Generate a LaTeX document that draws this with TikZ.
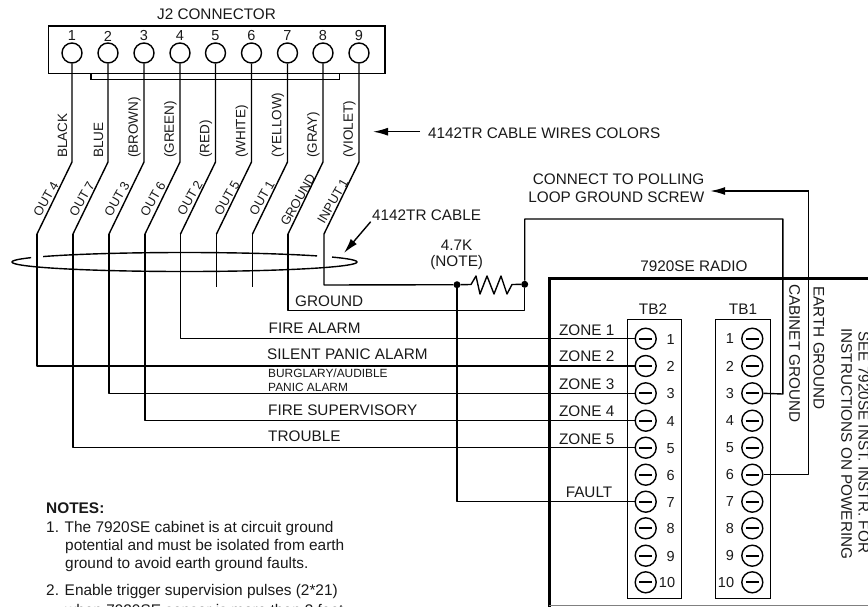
\documentclass[tikz,border=0pt]{standalone}
\usepackage{fontspec}
\setmainfont{Liberation Sans}
\usetikzlibrary{arrows.meta}
\tikzset{
  x=1pt,y=-1pt,
  wire/.style={line width=1.4pt,line join=round},
  txt/.style={font=\fontsize{15.3}{17}\selectfont,inner sep=0pt,text=black!90},
  ltxt/.style={txt,anchor=west},
  small/.style={font=\fontsize{11.9}{13}\selectfont,inner sep=0pt,anchor=west,text=black!90},
  note/.style={font=\fontsize{15.4}{17}\selectfont,inner sep=0pt,anchor=west,text=black!90},
  num/.style={font=\fontsize{14.5}{16}\selectfont,inner sep=0pt,text=black!90},
  vtxt/.style={font=\fontsize{13.5}{15}\selectfont,inner sep=0pt,text=black!90,rotate=90,anchor=west},
  dtxt/.style={font=\fontsize{12.8}{15}\selectfont,inner sep=0pt,text=black!90,rotate=60},
  rtxt/.style={txt,rotate=-90,anchor=west},
  pin/.style={circle,draw,line width=1.4pt,minimum size=20pt,inner sep=0pt,fill=white},
  screw/.style={circle,draw,line width=1.4pt,minimum size=21pt,inner sep=0pt,fill=white,
    path picture={\draw[line width=2pt] ([xshift=-6.5pt]path picture bounding box.center)--([xshift=6.5pt]path picture bounding box.center);}},
  box/.style={draw,line width=1.4pt},
  tip/.style={-{Latex[length=15pt,width=8pt]}},
  joint/.style={circle,fill=black,minimum size=7pt,inner sep=0pt},
}
\begin{document}
\begin{tikzpicture}
\useasboundingbox (0,0) rectangle (868,606);
\clip (0,0) rectangle (868,606);
% J2 connector
\node[txt] (j2title) at (216.5,14) {J2 CONNECTOR};
\draw[box] (48.5,26) rectangle (385,73.5);
\draw[box] (91,73.5) |- (339.5,79.5) -- (339.5,73.5);
\foreach \n/\x/\c in {1/72/BLACK,2/108/BLUE,3/144/(BROWN),4/180/(GREEN),5/215.5/(RED),6/251.5/(WHITE),7/287.5/(YELLOW),8/323/(GRAY),9/359/(VIOLET)}{
  \node[pin] (p\n) at (\x,53) {};
  \node[num] (pn\n) at (\x,36) {\n};
  \coordinate (b\n) at (\x,162);
  \coordinate (c\n) at (\x-35,234);
  \node[vtxt] (col\n) at (\x-9.5,158) {\c};
}
\foreach \n/\t/\x/\y in {1/OUT 4/46/199,2/OUT 7/82/199,3/OUT 3/117/199,4/OUT 6/153/199,5/OUT 2/190/198,6/OUT 5/227/198,7/OUT 1/262/198,8/GROUND/298/200,9/INPUT 1/333/201}{
  \node[dtxt] (sig\n) at (\x,\y) {\t};
}
% cable loop
\draw[wire] plot[domain=145:39.8,samples=60] ({184.5+172.5*cos(\x)},{262-9.5*sin(\x)});
\draw[wire] plot[domain=31.2:-207.2,samples=120] ({184.5+172.5*cos(\x)},{262-9.5*sin(\x)});
% radio box
\draw[line width=3pt] (868,278) -- (549,278) -- (549,612);
\draw[line width=.8pt,black!50] (549,605.5) -- (868,605.5);
\node[txt] (radio) at (694,266.7) {7920SE RADIO};
% terminal blocks
\node[txt] (tb2t) at (653,309) {TB2};
\node[txt] (tb1t) at (743,309) {TB1};
\draw[box] (627.5,319.5) rectangle (681.7,598.7);
\draw[box] (715.7,319.5) rectangle (770.3,598.7);
\foreach \n/\y in {1/338.7,2/366,3/393.3,4/420.7,5/447.7,6/474.7,7/501.7,8/528.3,9/555.7,10/582.3}{
  \node[screw] (z\n) at (645.7,\y) {};
  \node[screw] (t\n) at (752.3,\y) {};
  \ifnum\n<10
    \node[num] (zn\n) at (670.7,\y+.5) {\n};
    \node[num] (tn\n) at (730,\y) {\n};
  \else
    \node[num] (zn\n) at (667,\y+.5) {\n};
    \node[num] (tn\n) at (726,\y) {\n};
  \fi
}
% joints & resistor
\node[joint] (ja) at (457,284.7) {};
\node[joint] (jb) at (524.7,284.3) {};
\draw[wire] (ja) -- (471,284.5) -- (476,276) -- (480,294) -- (487,276) -- (494,294) -- (501,276) -- (507,294) -- (512,284.5) -- (jb);
% wires
\foreach \n in {1,...,9}{\draw[wire] (p\n.south) -- (b\n) -- (c\n);}
\draw[wire] (c1) |- (z2.west);
\draw[wire] (c2) |- (z5.west);
\draw[wire] (c3) |- (z3.west);
\draw[wire] (c4) |- (z4.west);
\draw[wire] (c5) |- (z1.west);
\coordinate (e6) at (216.5,287); \coordinate (e7) at (252.5,287);
\draw[wire] (c6) -- (e6);
\draw[wire] (c7) -- (e7);
\coordinate (g) at (288,310.7);
\draw[wire] (c8) -- (g) -| (jb);
\draw[wire] (c9) -- (324,285) -- (ja);
\draw[wire] (ja) |- (z7.west);
\coordinate (top) at (782.8,219);
\draw[wire] (jb) |- (top) -- (782.8,394) -- (t3.east);
\coordinate (eg) at (808.7,191);
\node[inner sep=0pt,minimum size=0pt] (aend) at (710,191) {};
\draw[wire] (t6.east) -| (eg);
\draw[wire,tip] (eg) -- (aend);
% texts
\node[ltxt] (a1) at (295,301) {GROUND};
\node[ltxt] at (268.5,328.7) {FIRE ALARM};
\node[ltxt] at (267,354.7) {SILENT PANIC ALARM};
\node[small] at (268,373.7) {BURGLARY/AUDIBLE};
\node[small] at (268,387) {PANIC ALARM};
\node[ltxt] at (268,410.7) {FIRE SUPERVISORY};
\node[ltxt] at (268,436.7) {TROUBLE};
\foreach \t/\y in {1/330,2/356.7,3/384.3,4/411.7,5/439}{\node[txt] at (586.7,\y) {ZONE \t};}
\node[txt] at (589,492.7) {FAULT};
\node[txt] at (456.7,245) {4.7K};
\node[txt] at (456.7,263) {(NOTE)};
\node[txt,anchor=east] at (704.5,179.7) {CONNECT TO POLLING};
\node[txt,anchor=east] at (704.5,197.7) {LOOP GROUND SCREW};
\node[ltxt] (cw) at (428,133) {4142TR CABLE WIRES COLORS};
\node[ltxt] (cb) at (372,215.7) {4142TR CABLE};
\coordinate (ca1) at (420,131.7);\coordinate (ca2) at (373,131.7);
\draw[wire,tip] (ca1) -- (ca2);
\coordinate (cb1) at (370.7,221.7);\coordinate (cb2) at (344,253);
\draw[wire,tip] (cb1) -- (cb2);
\node[rtxt] at (794.7,284) {CABINET GROUND};
\node[rtxt] at (819,286) {EARTH GROUND};
\node[rtxt] at (864,331) {SEE 7920SE INST. INSTR. FOR};
\node[rtxt] at (846.7,328) {INSTRUCTIONS ON POWERING};
% notes
\node[note,font=\fontsize{15.4}{17}\selectfont\bfseries] at (46,507.7) {NOTES:};
\node[note] at (46,529) {1. The 7920SE cabinet is at circuit ground};
\node[note] at (65,547) {potential and must be isolated from earth};
\node[note] at (65,565) {ground to avoid earth ground faults.};
\node[note] at (46,592) {2. Enable trigger supervision pulses (2*21)};
\node[note] at (65,610) {when 7920SE sensor is more than 3 feet};
\end{tikzpicture}
\end{document}
